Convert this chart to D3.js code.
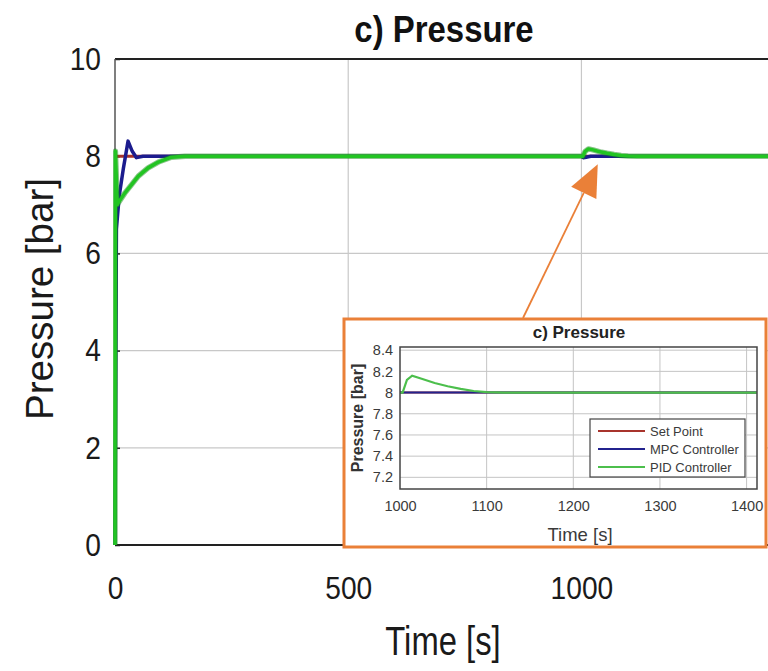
<!DOCTYPE html>
<html><head><meta charset="utf-8">
<script src="https://cdn.jsdelivr.net/npm/d3@7"></script>
<style>body{margin:0;background:#fff;}svg{display:block;}</style>
</head><body>
<svg id="c" width="768" height="671"></svg>
<script>
// ---------- data ----------
const xTicks = [0, 500, 1000];
const yTicks = [0, 2, 4, 6, 8, 10];
const setTime = [0, 1400];
const setVals = [8, 8];
const mpcTime = [0, 3, 9, 18, 28, 37, 46, 60, 100, 1000, 1004, 1010, 1020, 1400];
const mpcVals = [0, 6.5, 7.18, 7.75, 8.31, 8.1, 7.97, 8.0, 8.0, 8.0, 7.97, 7.98, 8.0, 8.0];
const pidTime = [0, 0.8, 5, 7, 21, 36, 50, 71, 93, 121, 150, 200, 1000, 1003, 1008, 1015, 1025, 1040, 1055, 1070, 1085, 1100, 1120, 1400];
const pidVals = [0, 8.1, 7.0, 7.04, 7.24, 7.42, 7.59, 7.76, 7.88, 7.98, 8.0, 8.0, 8.0, 8.0, 8.1, 8.15, 8.13, 8.09, 8.06, 8.035, 8.015, 8.005, 8.0, 8.0];
// inset
const inXTicks = [1000, 1100, 1200, 1300, 1400];
const inYTicks = [7.2, 7.4, 7.6, 7.8, 8, 8.2, 8.4];
const inSetTime = [1000, 1412];
const inSetVals = [8, 8];
const inMpcTime = [1000, 1412];
const inMpcVals = [8, 8];
const inPidTime = [1000, 1003, 1008, 1014, 1025, 1040, 1055, 1070, 1085, 1100, 1120, 1412];
const inPidVals = [8, 8.0, 8.12, 8.16, 8.13, 8.09, 8.06, 8.035, 8.015, 8.005, 8.0, 8.0];
const legendNames = ["Set Point", "MPC Controller", "PID Controller"];
const colors = ["#a8342c", "#1c1c8e", "#22c422"];
const inColors = ["#a8342c", "#23238e", "#4cbf4c"];

const svg = d3.select("#c");
const zip = (t, v) => t.map((d, i) => [d, v[i]]);
const FONT = "Liberation Sans, Arial, sans-serif";

// ---------- main plot ----------
const x = d3.scaleLinear().domain([0, 1400]).range([115, 768]);
const y = d3.scaleLinear().domain([0, 10]).range([545, 59]);

svg.append("clipPath").attr("id", "mclip").append("rect")
  .attr("x", 113).attr("y", 59).attr("width", 655).attr("height", 486);

// grid
const g = svg.append("g");
g.selectAll(".vg").data(xTicks.slice(1)).join("line")
  .attr("x1", d => x(d)).attr("x2", d => x(d)).attr("y1", y(0)).attr("y2", y(10))
  .attr("stroke", "#c8c8c8").attr("stroke-width", 1.2);
g.selectAll(".hg").data(yTicks.slice(1, -1)).join("line")
  .attr("x1", x(0)).attr("x2", 768).attr("y1", d => y(d)).attr("y2", d => y(d))
  .attr("stroke", "#c8c8c8").attr("stroke-width", 1.2);

// axes
const xAxis = d3.axisBottom(x).tickValues(xTicks).tickFormat(d3.format("d")).tickSize(0).tickPadding(31);
const yAxis = d3.axisLeft(y).tickValues(yTicks).tickSize(-5).tickPadding(14);
const xa = svg.append("g").attr("transform", `translate(0,${y(0)})`).call(xAxis);
const ya = svg.append("g").attr("transform", `translate(${x(0)},0)`).call(yAxis);
[xa, ya].forEach(a => {
  a.select(".domain").remove();
  a.selectAll("line").attr("stroke", "#222").attr("stroke-width", 1.5);
  a.selectAll("text").attr("font-family", FONT).attr("font-size", 32).attr("fill", "#1a1a1a");
});
xa.selectAll("text").attr("dy", "0.71em").style("transform-box", "fill-box").style("transform-origin", "center").style("transform", "scaleX(0.88)");
ya.selectAll("text").style("transform-box", "fill-box").style("transform-origin", "right center").style("transform", "scaleX(0.88)");

// frame lines
svg.append("line").attr("x1", x(0)).attr("x2", 768).attr("y1", y(10)).attr("y2", y(10)).attr("stroke", "#222").attr("stroke-width", 2.2);
svg.append("line").attr("x1", x(0)).attr("x2", 768).attr("y1", y(0)).attr("y2", y(0)).attr("stroke", "#222").attr("stroke-width", 2.2);
svg.append("line").attr("x1", x(0)).attr("x2", x(0)).attr("y1", y(0)).attr("y2", y(10)).attr("stroke", "#555").attr("stroke-width", 1.5);

// series
const line = d3.line().x(d => x(d[0])).y(d => y(d[1]));
const series = svg.append("g").attr("clip-path", "url(#mclip)");
series.append("path").datum(zip(setTime, setVals)).attr("d", line)
  .attr("fill", "none").attr("stroke", colors[0]).attr("stroke-width", 3);
series.append("path").datum(zip(mpcTime, mpcVals)).attr("d", line)
  .attr("fill", "none").attr("stroke", colors[1]).attr("stroke-width", 3.5).attr("stroke-linejoin", "round");
series.append("path").datum(zip(pidTime, pidVals)).attr("d", line)
  .attr("fill", "none").attr("stroke", "#138a13").attr("stroke-width", 5.5).attr("stroke-linejoin", "round").attr("opacity", 0.5);
series.append("path").datum(zip(pidTime, pidVals)).attr("d", line)
  .attr("fill", "none").attr("stroke", colors[2]).attr("stroke-width", 3.5).attr("stroke-linejoin", "round");

// title & labels
svg.append("text").attr("x", 444).attr("y", 42).attr("text-anchor", "middle")
  .attr("font-family", FONT).attr("font-weight", "bold").attr("font-size", 37)
  .attr("fill", "#111").attr("transform", "translate(444,0) scale(0.89,1) translate(-444,0)").text("c) Pressure");
svg.append("text").attr("transform", "translate(53,299) rotate(-90)").attr("text-anchor", "middle")
  .attr("font-family", FONT).attr("font-size", 38.5).attr("fill", "#1a1a1a")
  .text("Pressure [bar]");
svg.append("text").attr("x", 443).attr("y", 655).attr("text-anchor", "middle")
  .attr("font-family", FONT).attr("font-size", 41).attr("fill", "#1a1a1a")
  .attr("transform", "translate(443,0) scale(0.8,1) translate(-443,0)").text("Time [s]");

// ---------- arrow ----------
const orange = "#ea8038";
const tip = [x(1035), y(8) + 8];
const start = [523, 318];
const ang = Math.atan2(tip[1] - start[1], tip[0] - start[0]);
const hl = 32, hw = 14;
const base = [tip[0] - hl * Math.cos(ang), tip[1] - hl * Math.sin(ang)];
svg.append("line").attr("x1", start[0]).attr("y1", start[1]).attr("x2", base[0]).attr("y2", base[1])
  .attr("stroke", orange).attr("stroke-width", 1.8);
svg.append("polygon").attr("points", [
  tip,
  [base[0] + hw * Math.sin(ang), base[1] - hw * Math.cos(ang)],
  [base[0] - hw * Math.sin(ang), base[1] + hw * Math.cos(ang)]
].map(p => p.join(",")).join(" ")).attr("fill", orange);

// ---------- inset ----------
const ins = svg.append("g");
ins.append("rect").attr("x", 344).attr("y", 319).attr("width", 422).attr("height", 228)
  .attr("fill", "#fff").attr("stroke", orange).attr("stroke-width", 3);
const ix = d3.scaleLinear().domain([1000, 1412]).range([400, 757]);
const iy = d3.scaleLinear().domain([7.09, 8.43]).range([489, 347]);
ins.selectAll(".ivg").data(inXTicks.slice(1)).join("line")
  .attr("x1", d => ix(d)).attr("x2", d => ix(d)).attr("y1", iy.range()[0]).attr("y2", iy.range()[1])
  .attr("stroke", "#c4c4c4").attr("stroke-width", 1);
ins.selectAll(".ihg").data(inYTicks).join("line")
  .attr("x1", ix.range()[0]).attr("x2", ix.range()[1]).attr("y1", d => iy(d)).attr("y2", d => iy(d))
  .attr("stroke", "#c4c4c4").attr("stroke-width", 1);
const iline = d3.line().x(d => ix(d[0])).y(d => iy(d[1]));
ins.append("path").datum(zip(inSetTime, inSetVals)).attr("d", iline).attr("fill", "none").attr("stroke", inColors[0]).attr("stroke-width", 2);
ins.append("path").datum(zip(inMpcTime, inMpcVals)).attr("d", iline).attr("fill", "none").attr("stroke", inColors[1]).attr("stroke-width", 2);
ins.append("path").datum(zip(inPidTime, inPidVals)).attr("d", iline).attr("fill", "none").attr("stroke", inColors[2]).attr("stroke-width", 2.2);
ins.append("rect").attr("x", ix.range()[0]).attr("y", iy.range()[1])
  .attr("width", ix.range()[1] - ix.range()[0]).attr("height", iy.range()[0] - iy.range()[1])
  .attr("fill", "none").attr("stroke", "#444").attr("stroke-width", 1.5);
const ixa = ins.append("g").attr("transform", `translate(0,${iy.range()[0]})`)
  .call(d3.axisBottom(ix).tickValues(inXTicks).tickFormat(d3.format("d")).tickSize(0).tickPadding(12));
const iya = ins.append("g").attr("transform", `translate(${ix.range()[0]},0)`)
  .call(d3.axisLeft(iy).tickValues(inYTicks).tickFormat(d3.format("~g")).tickSize(0).tickPadding(7));
[ixa, iya].forEach(a => {
  a.select(".domain").remove();
  a.selectAll("text").attr("font-family", FONT).attr("font-size", 14.5).attr("fill", "#3a3a3a");
});
ins.append("text").attr("x", 579).attr("y", 338).attr("text-anchor", "middle")
  .attr("font-family", FONT).attr("font-weight", "bold").attr("font-size", 17)
  .attr("fill", "#222").text("c) Pressure");
ins.append("text").attr("transform", "translate(363,418) rotate(-90)").attr("text-anchor", "middle")
  .attr("font-family", FONT).attr("font-weight", "bold").attr("font-size", 16)
  .attr("fill", "#333").text("Pressure [bar]");
ins.append("text").attr("x", 580).attr("y", 541).attr("text-anchor", "middle")
  .attr("font-family", FONT).attr("font-size", 18.5)
  .attr("fill", "#3a3a3a").text("Time [s]");
// legend
const lg = ins.append("g");
lg.append("rect").attr("x", 590).attr("y", 419).attr("width", 155).attr("height", 58)
  .attr("fill", "#fff").attr("stroke", "#444").attr("stroke-width", 1.2);
legendNames.forEach((n, i) => {
  const yy = 431 + i * 18;
  lg.append("line").attr("x1", 598).attr("x2", 645).attr("y1", yy).attr("y2", yy)
    .attr("stroke", inColors[i]).attr("stroke-width", 2.2);
  lg.append("text").attr("x", 650).attr("y", yy + 4.5).attr("font-family", FONT)
    .attr("font-size", 13).attr("fill", "#3a3a3a").text(n);
});
</script>
</body></html>
